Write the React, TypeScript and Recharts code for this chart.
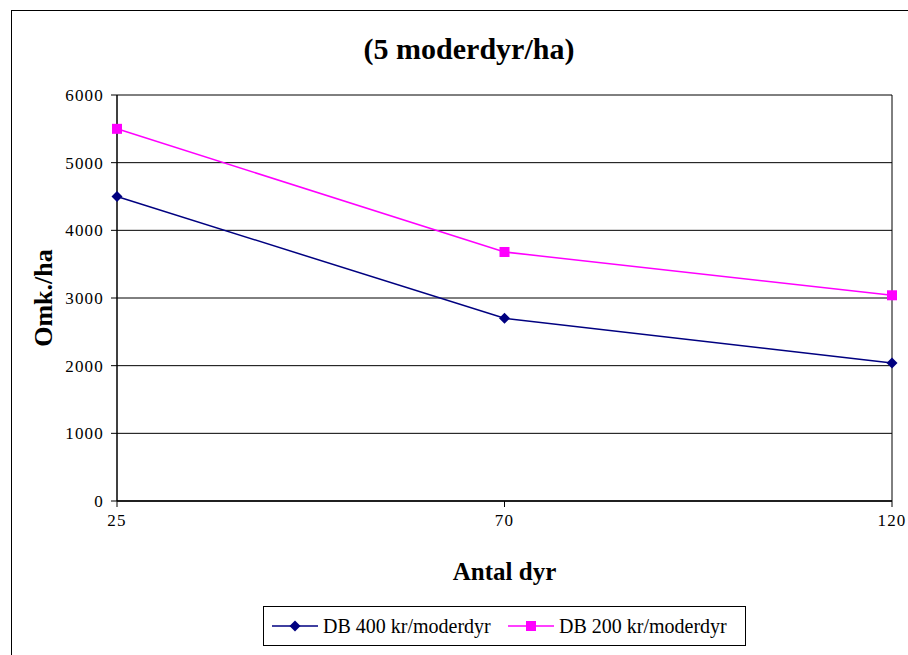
import React from 'react';
import { LineChart, Line, XAxis, YAxis, CartesianGrid, ReferenceLine } from 'recharts';

const categories = ['25', '70', '120'];
const db400 = [4500, 2700, 2040];
const db200 = [5500, 3680, 3040];
const yTicks = [0, 1000, 2000, 3000, 4000, 5000, 6000];
const seriesNames = ['DB 400 kr/moderdyr', 'DB 200 kr/moderdyr'];

const NAVY = '#000080';
const MAGENTA = '#FF00FF';
const FONT = 'Liberation Serif, Tinos, Times New Roman, DejaVu Serif';

const data = categories.map((c, i) => ({ antal: c, db400: db400[i], db200: db200[i] }));

const Diamond = (props: any) => {
    const { cx, cy } = props;
    if (cx == null || cy == null) return null;
    const r = 5.5;
    return <polygon points={`${cx},${cy - r} ${cx + r},${cy} ${cx},${cy + r} ${cx - r},${cy}`} fill={NAVY} />;
};

const Square = (props: any) => {
    const { cx, cy } = props;
    if (cx == null || cy == null) return null;
    return <rect x={cx - 5} y={cy - 5} width={10} height={10} fill={MAGENTA} />;
};

// legend entry: 46px line with marker, then text
const LegendItem: React.FC<{ left: number; color: string; name: string; square?: boolean }> = ({ left, color, name, square }) => (
    <div style={{ position: 'absolute', left, top: 0, height: 38, display: 'flex', alignItems: 'center', whiteSpace: 'nowrap' }}>
        <svg width={46} height={14} style={{ marginRight: 5 }}>
            <line x1={0} y1={7} x2={46} y2={7} stroke={color} strokeWidth={1.5} />
            {square
                ? <rect x={18} y={2} width={10} height={10} fill={color} />
                : <polygon points="23,1.5 28.5,7 23,12.5 17.5,7" fill={color} />}
        </svg>
        <span>{name}</span>
    </div>
);

export default function App() {
    return (
        <div style={{ position: 'fixed', left: 0, top: 0, width: 908, height: 655, overflow: 'hidden', background: '#fff', fontFamily: FONT }}>
            <div style={{ position: 'absolute', left: 11, top: 10, width: 920, height: 680, border: '1px solid #000' }} />
            <div style={{ position: 'absolute', left: 0, top: 0 }}>
                <LineChart width={908} height={655} data={data} margin={{ top: 95, right: 16, bottom: 64, left: 0 }}>
                    <CartesianGrid vertical={false} stroke="#000" strokeWidth={1} />
                    <ReferenceLine x="120" stroke="#000" strokeWidth={1} />
                    <XAxis
                        dataKey="antal"
                        height={90}
                        tickSize={6}
                        tickMargin={7}
                        axisLine={{ stroke: '#000', strokeWidth: 1.5 }}
                        tickLine={{ stroke: '#000' }}
                        tick={{ fill: '#000', fontSize: 17, fontFamily: FONT, letterSpacing: 1.2 }}
                        padding={{ left: 0, right: 0 }}
                        label={{ value: 'Antal dyr', position: 'insideBottom', offset: 11, fill: '#000', fontSize: 25, fontWeight: 'bold', fontFamily: FONT }}
                    />
                    <YAxis
                        width={117}
                        domain={[0, 6000]}
                        ticks={yTicks}
                        interval={0}
                        tickSize={6}
                        tickMargin={7}
                        axisLine={{ stroke: '#000', strokeWidth: 1.5 }}
                        tickLine={{ stroke: '#000' }}
                        tick={{ fill: '#000', fontSize: 17, fontFamily: FONT, letterSpacing: 1.2 }}
                        label={{
                            content: ({ viewBox }: any) => (
                                <text x={43} y={viewBox.y + viewBox.height / 2} transform={`rotate(-90, 43, ${viewBox.y + viewBox.height / 2})`}
                                    textAnchor="middle" dominantBaseline="central" fill="#000" fontSize={26} fontWeight="bold" fontFamily={FONT}>
                                    Omk./ha
                                </text>
                            ),
                        }}
                    />
                    <Line type="linear" dataKey="db400" name={seriesNames[0]} stroke={NAVY} strokeWidth={1.5} dot={<Diamond />} activeDot={false} isAnimationActive={false} />
                    <Line type="linear" dataKey="db200" name={seriesNames[1]} stroke={MAGENTA} strokeWidth={1.5} dot={<Square />} activeDot={false} isAnimationActive={false} />
                </LineChart>
            </div>
            <div style={{ position: 'absolute', left: 270, top: 32, width: 398, textAlign: 'center', fontSize: 30, fontWeight: 'bold', color: '#000', whiteSpace: 'nowrap' }}>
                (5 moderdyr/ha)
            </div>
            <div style={{ position: 'absolute', left: 263, top: 606, width: 481, height: 38, border: '1px solid #000', fontSize: 20, color: '#000', boxSizing: 'content-box' }}>
                <LegendItem left={8} color={NAVY} name={seriesNames[0]} />
                <LegendItem left={244} color={MAGENTA} name={seriesNames[1]} square />
            </div>
        </div>
    );
}
